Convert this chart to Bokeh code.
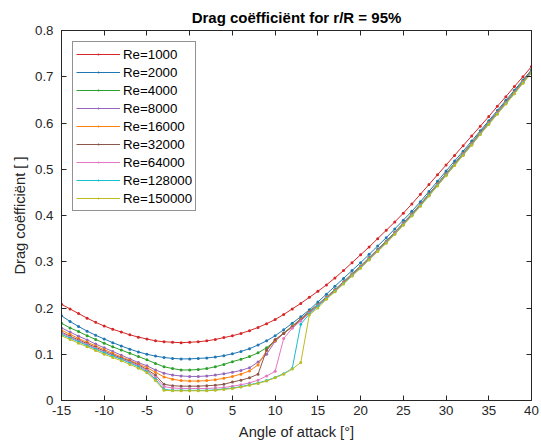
from bokeh.plotting import figure
from bokeh.models import LinearAxis, FixedTicker, Range1d, Legend, LegendItem
from bokeh.embed import file_html
from bokeh.resources import INLINE

angles = [-15, -14, -13, -12, -11, -10, -9, -8, -7, -6, -5, -4, -3, -2, -1,
          0, 1, 2, 3, 4, 5, 6, 7, 8, 9, 10, 11, 12, 13, 14,
          15, 16, 17, 18, 19, 20, 21, 22, 23, 24, 25, 26, 27, 28, 29, 30,
          31, 32, 33, 34, 35, 36, 37, 38, 39, 40]

cd_re1000 = [0.208, 0.198, 0.188, 0.178, 0.169, 0.161, 0.154, 0.148, 0.142, 0.137, 0.133, 0.129, 0.127, 0.126, 0.125,
             0.126, 0.127, 0.129, 0.132, 0.136, 0.140, 0.145, 0.151, 0.158, 0.166, 0.175, 0.186, 0.198, 0.210, 0.223,
             0.236, 0.250, 0.265, 0.281, 0.298, 0.315, 0.332, 0.350, 0.368, 0.386, 0.405, 0.425, 0.446, 0.467, 0.488, 0.509,
             0.530, 0.551, 0.572, 0.593, 0.614, 0.636, 0.657, 0.679, 0.700, 0.722]
cd_re2000 = [0.183, 0.171, 0.160, 0.150, 0.141, 0.133, 0.125, 0.118, 0.111, 0.105, 0.100, 0.096, 0.093, 0.091, 0.090,
             0.090, 0.091, 0.092, 0.094, 0.097, 0.101, 0.106, 0.112, 0.120, 0.129, 0.140, 0.153, 0.167, 0.181, 0.196,
             0.213, 0.230, 0.247, 0.264, 0.281, 0.298, 0.316, 0.334, 0.352, 0.371, 0.390, 0.409, 0.430, 0.452, 0.474, 0.496,
             0.518, 0.539, 0.561, 0.583, 0.605, 0.627, 0.649, 0.671, 0.693, 0.715]
cd_re4000 = [0.167, 0.157, 0.149, 0.140, 0.132, 0.124, 0.116, 0.109, 0.102, 0.095, 0.088, 0.080, 0.073, 0.069, 0.066,
             0.066, 0.067, 0.069, 0.073, 0.078, 0.084, 0.089, 0.095, 0.103, 0.114, 0.129, 0.146, 0.161, 0.177, 0.193,
             0.208, 0.224, 0.240, 0.257, 0.274, 0.291, 0.309, 0.327, 0.345, 0.364, 0.384, 0.404, 0.425, 0.447, 0.469, 0.491,
             0.513, 0.535, 0.557, 0.580, 0.602, 0.624, 0.646, 0.668, 0.691, 0.713]
cd_re8000 = [0.157, 0.148, 0.139, 0.131, 0.122, 0.114, 0.106, 0.098, 0.090, 0.082, 0.075, 0.066, 0.059, 0.055, 0.053,
             0.052, 0.052, 0.053, 0.055, 0.058, 0.061, 0.065, 0.071, 0.083, 0.100, 0.128, 0.145, 0.160, 0.176, 0.192,
             0.207, 0.223, 0.239, 0.256, 0.273, 0.290, 0.308, 0.326, 0.344, 0.363, 0.383, 0.403, 0.424, 0.446, 0.468, 0.490,
             0.512, 0.534, 0.556, 0.579, 0.601, 0.623, 0.645, 0.667, 0.690, 0.712]
cd_re16000 = [0.152, 0.143, 0.134, 0.126, 0.118, 0.110, 0.102, 0.094, 0.087, 0.079, 0.071, 0.061, 0.051, 0.046, 0.043,
              0.042, 0.042, 0.043, 0.045, 0.048, 0.052, 0.057, 0.064, 0.077, 0.108, 0.130, 0.145, 0.160, 0.175, 0.191,
              0.206, 0.222, 0.238, 0.255, 0.272, 0.289, 0.307, 0.325, 0.343, 0.362, 0.382, 0.402, 0.423, 0.445, 0.467, 0.489,
              0.511, 0.533, 0.555, 0.578, 0.600, 0.622, 0.644, 0.666, 0.689, 0.711]
cd_re32000 = [0.148, 0.139, 0.131, 0.123, 0.115, 0.107, 0.099, 0.092, 0.085, 0.077, 0.067, 0.055, 0.035, 0.032, 0.031,
              0.031, 0.031, 0.032, 0.033, 0.035, 0.040, 0.044, 0.049, 0.057, 0.109, 0.132, 0.145, 0.159, 0.174, 0.190,
              0.205, 0.221, 0.237, 0.254, 0.271, 0.288, 0.306, 0.324, 0.342, 0.361, 0.381, 0.401, 0.422, 0.444, 0.466, 0.488,
              0.510, 0.532, 0.554, 0.577, 0.599, 0.621, 0.643, 0.665, 0.688, 0.710]
cd_re64000 = [0.146, 0.137, 0.129, 0.121, 0.113, 0.105, 0.097, 0.090, 0.083, 0.075, 0.065, 0.050, 0.030, 0.027, 0.026,
              0.026, 0.026, 0.026, 0.027, 0.028, 0.031, 0.034, 0.038, 0.044, 0.053, 0.063, 0.134, 0.156, 0.172, 0.189,
              0.205, 0.221, 0.237, 0.254, 0.271, 0.288, 0.306, 0.324, 0.342, 0.361, 0.381, 0.401, 0.422, 0.444, 0.466, 0.488,
              0.510, 0.532, 0.554, 0.577, 0.599, 0.621, 0.643, 0.665, 0.688, 0.710]
cd_re128000 = [0.143, 0.135, 0.127, 0.119, 0.111, 0.103, 0.096, 0.089, 0.081, 0.073, 0.062, 0.046, 0.024, 0.022, 0.022,
               0.022, 0.022, 0.022, 0.023, 0.025, 0.027, 0.030, 0.034, 0.038, 0.043, 0.050, 0.058, 0.069, 0.165, 0.187,
               0.204, 0.220, 0.236, 0.253, 0.270, 0.287, 0.305, 0.323, 0.341, 0.360, 0.380, 0.400, 0.421, 0.443, 0.465, 0.487,
               0.509, 0.531, 0.553, 0.576, 0.598, 0.620, 0.642, 0.664, 0.687, 0.709]
cd_re150000 = [0.140, 0.132, 0.124, 0.116, 0.108, 0.100, 0.093, 0.086, 0.078, 0.070, 0.060, 0.043, 0.022, 0.021, 0.021,
               0.021, 0.021, 0.021, 0.022, 0.024, 0.026, 0.029, 0.033, 0.037, 0.042, 0.049, 0.057, 0.068, 0.082, 0.185,
               0.200, 0.219, 0.235, 0.252, 0.269, 0.286, 0.304, 0.322, 0.340, 0.359, 0.379, 0.399, 0.420, 0.442, 0.464, 0.486,
               0.508, 0.530, 0.552, 0.575, 0.597, 0.619, 0.641, 0.663, 0.686, 0.708]

labels = ["Re=1000", "Re=2000", "Re=4000", "Re=8000", "Re=16000",
          "Re=32000", "Re=64000", "Re=128000", "Re=150000"]
series = [cd_re1000, cd_re2000, cd_re4000, cd_re8000, cd_re16000,
          cd_re32000, cd_re64000, cd_re128000, cd_re150000]
colors = ["#d62728", "#1f77b4", "#2ca02c", "#9467bd", "#ff7f0e",
          "#8c564b", "#e377c2", "#17becf", "#bcbd22"]

x_ticks = [-15, -10, -5, 0, 5, 10, 15, 20, 25, 30, 35, 40]
y_ticks = [0, 0.1, 0.2, 0.3, 0.4, 0.5, 0.6, 0.7, 0.8]

FONT = "Liberation Sans"
AX = "#262626"

p = figure(frame_width=470, frame_height=370,
           min_border_left=61, min_border_right=10, min_border_top=30, min_border_bottom=46,
           x_range=Range1d(-15, 40), y_range=Range1d(0, 0.8),
           output_backend="svg", toolbar_location=None,
           title="Drag coëfficiënt for r/R = 95%")
p.background_fill_color = "white"
p.border_fill_color = "white"
p.outline_line_color = AX
p.xgrid.visible = False
p.ygrid.visible = False

p.title.align = "center"
p.title.text_font = FONT
p.title.text_font_size = "15px"
p.title.text_font_style = "bold"
p.title.text_color = "black"

def style_axis(ax, show_labels=True):
    ax.axis_line_color = AX
    ax.major_tick_line_color = AX
    ax.major_tick_in = 5
    ax.major_tick_out = 0
    ax.minor_tick_line_color = None
    ax.major_label_text_font = FONT
    if show_labels:
        ax.major_label_text_font_size = "13.3px"
        ax.major_label_text_color = AX
    else:
        ax.major_label_text_font_size = "1px"
        ax.major_label_text_color = None
    ax.axis_label_text_font = FONT
    ax.axis_label_text_font_size = "14.7px"
    ax.axis_label_text_font_style = "normal"
    ax.axis_label_text_color = AX

p.xaxis.ticker = FixedTicker(ticks=x_ticks)
p.yaxis.ticker = FixedTicker(ticks=y_ticks)
p.xaxis.major_label_overrides = {-15: "-15", -10: "-10", -5: "-5"}
p.yaxis.major_label_overrides = {0: "0"}
p.xaxis.axis_label = "Angle of attack [°]"
p.yaxis.axis_label = "Drag coëfficiënt [ ]"
style_axis(p.xaxis[0])
style_axis(p.yaxis[0])
p.xaxis.major_label_standoff = 5
p.yaxis.major_label_standoff = 8
p.xaxis.axis_label_standoff = 6
p.yaxis.axis_label_standoff = 4

top = LinearAxis(ticker=FixedTicker(ticks=x_ticks))
right = LinearAxis(ticker=FixedTicker(ticks=y_ticks))
style_axis(top, False)
style_axis(right, False)
top.major_label_standoff = 0
right.major_label_standoff = 0
p.add_layout(top, "above")
p.add_layout(right, "right")

items = []
for lab, ys, col in zip(labels, series, colors):
    ln = p.line(angles, ys, line_color=col, line_width=1)
    sc = p.scatter(angles, ys, marker="dot", size=12, fill_color=col, line_color=col)
    items.append(LegendItem(label=lab, renderers=[ln, sc]))

legend = Legend(items=items, location="top_left")
legend.margin = 11
legend.padding = 3
legend.spacing = 0
legend.glyph_width = 44
legend.glyph_height = 18
legend.label_height = 18
legend.label_standoff = 3
legend.label_text_font = FONT
legend.label_text_font_size = "13.3px"
legend.label_text_color = "black"
legend.border_line_color = AX
legend.border_line_width = 1
legend.background_fill_color = "white"
legend.background_fill_alpha = 1
p.add_layout(legend)

open("out.html", "w").write(file_html(p, INLINE))
